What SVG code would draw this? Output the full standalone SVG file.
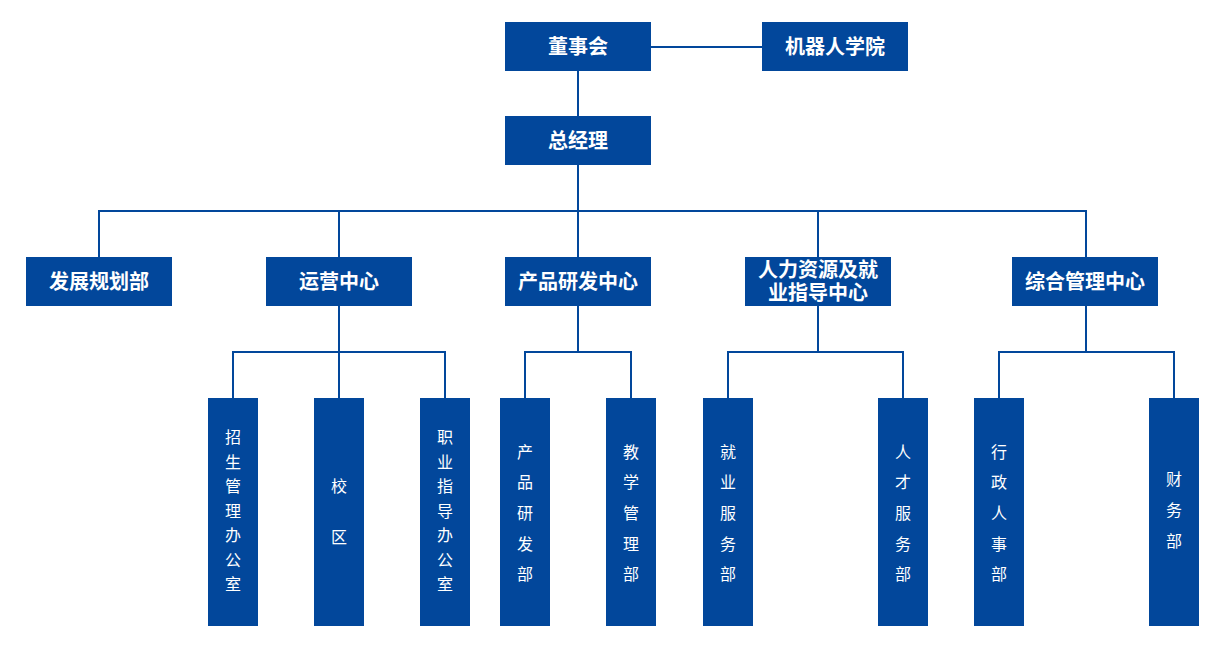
<svg xmlns="http://www.w3.org/2000/svg" width="1222" height="671" viewBox="0 0 1222 671">
<style>
.box{fill:#02479b}
.t{fill:#fff;font-family:"Noto Sans CJK SC","Microsoft YaHei",sans-serif;font-size:20px;font-weight:bold;text-anchor:middle}
.v{fill:#fff;font-family:"Noto Sans CJK SC","Microsoft YaHei",sans-serif;font-size:16px;text-anchor:middle}
.c{fill:none;stroke:#02479b;stroke-width:2}
</style>
<rect width="1222" height="671" fill="#fff"/>
<g id="connectors">
<path class="c" d="M651 47H762"/>
<path class="c" d="M578 71V116"/>
<path class="c" d="M578 165V211"/>
<path class="c" d="M99 257V211H1086V257"/>
<path class="c" d="M339 211V257"/>
<path class="c" d="M578 211V257"/>
<path class="c" d="M818 211V257"/>
<path class="c" d="M339 306V352"/>
<path class="c" d="M233 398V352H445V398"/>
<path class="c" d="M339 352V398"/>
<path class="c" d="M578 306V352"/>
<path class="c" d="M525 398V352H631V398"/>
<path class="c" d="M818 306V352"/>
<path class="c" d="M728 398V352H903V398"/>
<path class="c" d="M1086 306V352"/>
<path class="c" d="M999 398V352H1174V398"/>
</g>
<g id="n-board"><rect class="box" x="505" y="22" width="146" height="49"/><text class="t" x="578" y="54">董事会</text></g>
<g id="n-academy"><rect class="box" x="762" y="22" width="146" height="49"/><text class="t" x="835" y="54">机器人学院</text></g>
<g id="n-gm"><rect class="box" x="505" y="116" width="146" height="49"/><text class="t" x="578" y="148">总经理</text></g>
<g id="n-dev"><rect class="box" x="26" y="257" width="146" height="49"/><text class="t" x="99" y="289">发展规划部</text></g>
<g id="n-ops"><rect class="box" x="266" y="257" width="146" height="49"/><text class="t" x="339" y="289">运营中心</text></g>
<g id="n-rd"><rect class="box" x="505" y="257" width="146" height="49"/><text class="t" x="578" y="289">产品研发中心</text></g>
<g id="n-hr"><rect class="box" x="745" y="257" width="146" height="49"/><text class="t" x="818" y="277">人力资源及就</text><text class="t" x="818" y="300">业指导中心</text></g>
<g id="n-admin"><rect class="box" x="1012" y="257" width="146" height="49"/><text class="t" x="1085" y="289">综合管理中心</text></g>
<g id="n-enroll"><rect class="box" x="208" y="398" width="50" height="228"/><text class="v"><tspan x="233" y="443">招</tspan><tspan x="233" y="467.5">生</tspan><tspan x="233" y="492">管</tspan><tspan x="233" y="516.5">理</tspan><tspan x="233" y="541">办</tspan><tspan x="233" y="566">公</tspan><tspan x="233" y="590">室</tspan></text></g>
<g id="n-campus"><rect class="box" x="314" y="398" width="50" height="228"/><text class="v"><tspan x="339" y="492">校</tspan><tspan x="339" y="543">区</tspan></text></g>
<g id="n-career"><rect class="box" x="420" y="398" width="50" height="228"/><text class="v"><tspan x="445" y="443">职</tspan><tspan x="445" y="467.5">业</tspan><tspan x="445" y="492">指</tspan><tspan x="445" y="516.5">导</tspan><tspan x="445" y="541">办</tspan><tspan x="445" y="566">公</tspan><tspan x="445" y="590">室</tspan></text></g>
<g id="n-prd"><rect class="box" x="500" y="398" width="50" height="228"/><text class="v"><tspan x="525" y="458">产</tspan><tspan x="525" y="488">品</tspan><tspan x="525" y="519">研</tspan><tspan x="525" y="550">发</tspan><tspan x="525" y="580">部</tspan></text></g>
<g id="n-teach"><rect class="box" x="606" y="398" width="50" height="228"/><text class="v"><tspan x="631" y="458">教</tspan><tspan x="631" y="488">学</tspan><tspan x="631" y="519">管</tspan><tspan x="631" y="550">理</tspan><tspan x="631" y="580">部</tspan></text></g>
<g id="n-employ"><rect class="box" x="703" y="398" width="50" height="228"/><text class="v"><tspan x="728" y="458">就</tspan><tspan x="728" y="488">业</tspan><tspan x="728" y="519">服</tspan><tspan x="728" y="550">务</tspan><tspan x="728" y="580">部</tspan></text></g>
<g id="n-talent"><rect class="box" x="878" y="398" width="50" height="228"/><text class="v"><tspan x="903" y="458">人</tspan><tspan x="903" y="488">才</tspan><tspan x="903" y="519">服</tspan><tspan x="903" y="550">务</tspan><tspan x="903" y="580">部</tspan></text></g>
<g id="n-adminhr"><rect class="box" x="974" y="398" width="50" height="228"/><text class="v"><tspan x="999" y="458">行</tspan><tspan x="999" y="488">政</tspan><tspan x="999" y="519">人</tspan><tspan x="999" y="550">事</tspan><tspan x="999" y="580">部</tspan></text></g>
<g id="n-finance"><rect class="box" x="1149" y="398" width="50" height="228"/><text class="v"><tspan x="1174" y="485">财</tspan><tspan x="1174" y="516">务</tspan><tspan x="1174" y="547">部</tspan></text></g>
</svg>
